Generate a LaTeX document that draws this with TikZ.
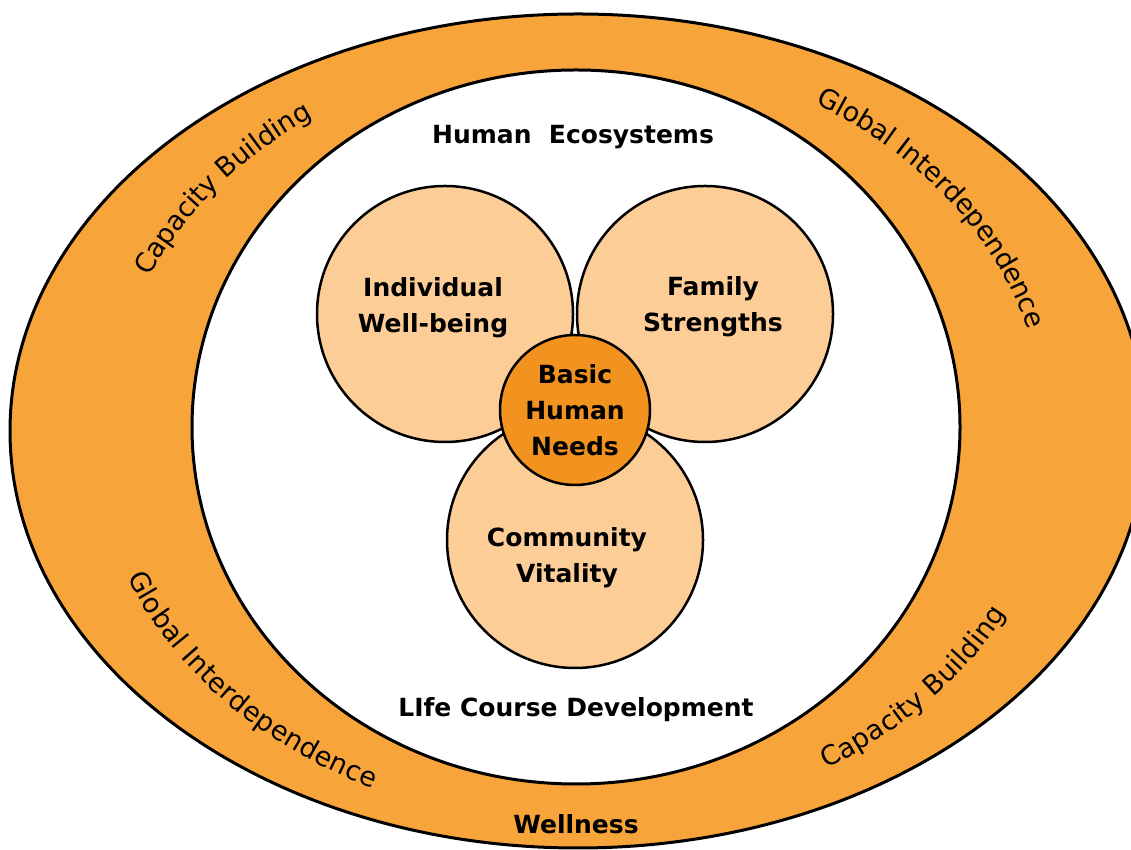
\documentclass[tikz,border=0pt]{standalone}
\usepackage{fontspec}
\setmainfont{DejaVu Sans}
\usetikzlibrary{positioning}
\usetikzlibrary{decorations.text}
\definecolor{bandorange}{HTML}{F7A43B}
\definecolor{petalpeach}{HTML}{FDCD98}
\definecolor{coreorange}{HTML}{F2921F}
\tikzset{	x=1pt, y=1pt,
	petal/.style={
		circle,
		draw,
		line width=2.5pt,
		fill=petalpeach,
		minimum size=256pt},
	core/.style={
		circle,
		draw,
		line width=2.5pt,
		fill=coreorange,
		minimum size=150pt},
	tag/.style={
		font=\fontsize{25}{36}\selectfont\bfseries,
		align=center},
	ring text/.style={
		decorate,
		decoration={text along path, text align=center, raise=-9pt,
			text={|\fontsize{27}{30}\selectfont|#1}}}
}

\begin{document}
\begin{tikzpicture}
				\path[use as bounding box, clip] (0,0) rectangle (1131,850);
				% rings
				\draw[fill=bandorange, line width=3pt] (578,419) ellipse [x radius=568, y radius=417];
				\draw[fill=white, line width=3pt] (576,423) ellipse [x radius=384, y radius=357];
				% words on the band
				\path[ring text={Capacity Building}] (577,421) ++(161:476 and 387) arc [start angle=161, end angle=120, x radius=476, y radius=387];
				\path[ring text={Global Interdependence}] (577,421) ++(64:476 and 387) arc [start angle=64, end angle=10, x radius=476, y radius=387];
				\path[ring text={Global Interdependence}] (577,421) ++(196:476 and 387) arc [start angle=196, end angle=250, x radius=476, y radius=387];
				\path[ring text={Capacity Building}] (577,421) ++(296:476 and 387) arc [start angle=296, end angle=338, x radius=476, y radius=387];
				\node[tag] (wellness) at (576,26) {Wellness};
				% petals
				\node[petal] (indiv) at (445,536) {};
				\node[petal, right of=indiv, node distance=260pt] (family) {};
				\node[petal] (community) at (575,310) {};
				\node[core, above of=community, node distance=130pt] (basic) {};
				\node[tag] (indivtext) at ([xshift=-12pt, yshift=6pt]indiv.center) {Individual\\Well-being};
				\node[tag] (familytext) at ([xshift=8pt, yshift=7pt]family.center) {Family\\Strengths};
				\node[tag] (communitytext) at ([xshift=-8pt, yshift=-18pt]community.center) {Community\\Vitality};
				\node[tag] (basictext) at (basic.center) {Basic\\Human\\Needs};
				% inner headings
				\node[tag] (ecosys) at (573,713) {Human~~Ecosystems};
				\node[tag] (lifecourse) at (576,140) {LIfe Course Development};
			\end{tikzpicture}
\end{document}
